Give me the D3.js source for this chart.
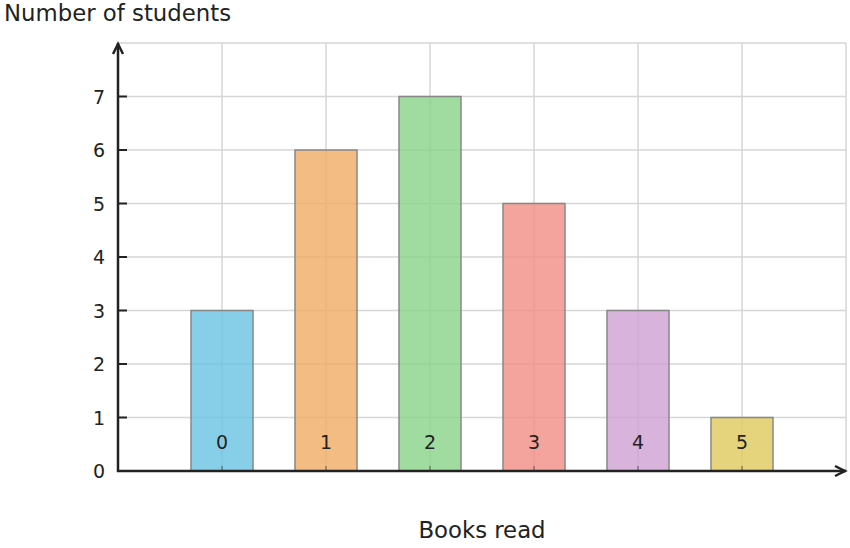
<!DOCTYPE html>
<html>
<head>
<meta charset="utf-8">
<script src="https://cdn.jsdelivr.net/npm/d3@7"></script>
<style>
  body { margin: 0; background: #fff; }
  text { font-family: "DejaVu Sans", sans-serif; fill: #222; }
</style>
</head>
<body>
<svg id="chart" width="850" height="548"></svg>
<script>
const categories = ["0", "1", "2", "3", "4", "5"];
const students = [3, 6, 7, 5, 3, 1];
const yTicks = [0, 1, 2, 3, 4, 5, 6, 7];
const barColors = ["#69c3e2", "#f0ab63", "#88d288", "#f18d83", "#cea1d3", "#e0c95b"];

const svg = d3.select("#chart");
const plotLeft = 118, plotRight = 846, plotTop = 43, plotBottom = 471;

// x runs from -1 to 6 so the categories sit at 0..5
const x = d3.scaleLinear().domain([-1, 6]).range([plotLeft, plotRight]);
const y = d3.scaleLinear().domain([0, 8]).range([plotBottom, plotTop]);

// grid
const grid = svg.append("g").attr("stroke", "#d6d6d6").attr("stroke-width", 1.5);
grid.selectAll(".h").data(d3.range(1, 9)).enter().append("line")
    .attr("x1", plotLeft).attr("x2", plotRight)
    .attr("y1", d => y(d)).attr("y2", d => y(d));
grid.selectAll(".v").data(d3.range(0, 7)).enter().append("line")
    .attr("x1", d => x(d)).attr("x2", d => x(d))
    .attr("y1", plotTop).attr("y2", plotBottom);

// bars
svg.append("g").selectAll("rect")
    .data(students)
    .enter()
    .append("rect")
    .attr("x", (d, i) => x(i) - 31)
    .attr("width", 62)
    .attr("y", d => y(d))
    .attr("height", d => y(0) - y(d))
    .attr("fill", (d, i) => barColors[i])
    .attr("fill-opacity", 0.8)
    .attr("stroke", "#888")
    .attr("stroke-width", 1.5);

// small x ticks
svg.append("g").selectAll("line")
    .data(categories)
    .enter()
    .append("line")
    .attr("x1", (d, i) => x(i)).attr("x2", (d, i) => x(i))
    .attr("y1", plotBottom).attr("y2", plotBottom - 5)
    .attr("stroke", "#555").attr("stroke-opacity", 0.5).attr("stroke-width", 2);

// category labels inside bars
svg.append("g").selectAll("text")
    .data(categories)
    .enter()
    .append("text")
    .attr("x", (d, i) => x(i))
    .attr("y", 449)
    .attr("text-anchor", "middle")
    .style("font-size", "19px")
    .text(d => d);

// axes
const axis = svg.append("g").attr("stroke", "#222").attr("stroke-width", 2.5).attr("fill", "none");
axis.append("line").attr("x1", plotLeft).attr("x2", plotLeft).attr("y1", plotBottom + 1).attr("y2", plotTop);
axis.append("line").attr("x1", plotLeft - 1).attr("x2", plotRight).attr("y1", plotBottom).attr("y2", plotBottom);
axis.append("path").attr("d", `M${plotLeft - 5},${plotTop + 11} L${plotLeft},${plotTop + 1} L${plotLeft + 5},${plotTop + 11}`);
axis.append("path").attr("d", `M${plotRight - 11},${plotBottom - 5} L${plotRight - 1},${plotBottom} L${plotRight - 11},${plotBottom + 5}`);

// y ticks and labels
const yt = svg.append("g");
yt.selectAll("line").data(yTicks.slice(1)).enter().append("line")
    .attr("x1", plotLeft).attr("x2", plotLeft + 9)
    .attr("y1", d => y(d)).attr("y2", d => y(d))
    .attr("stroke", "#222").attr("stroke-width", 2);
yt.selectAll("text").data(yTicks).enter().append("text")
    .attr("x", 105)
    .attr("y", d => y(d) + 7)
    .attr("text-anchor", "end")
    .style("font-size", "19px")
    .text(d => d);

// titles
svg.append("text").attr("x", 4).attr("y", 21).style("font-size", "22.8px").text("Number of students");
svg.append("text").attr("x", 482).attr("y", 538).attr("text-anchor", "middle")
    .style("font-size", "22.8px").text("Books read");
</script>
</body>
</html>
